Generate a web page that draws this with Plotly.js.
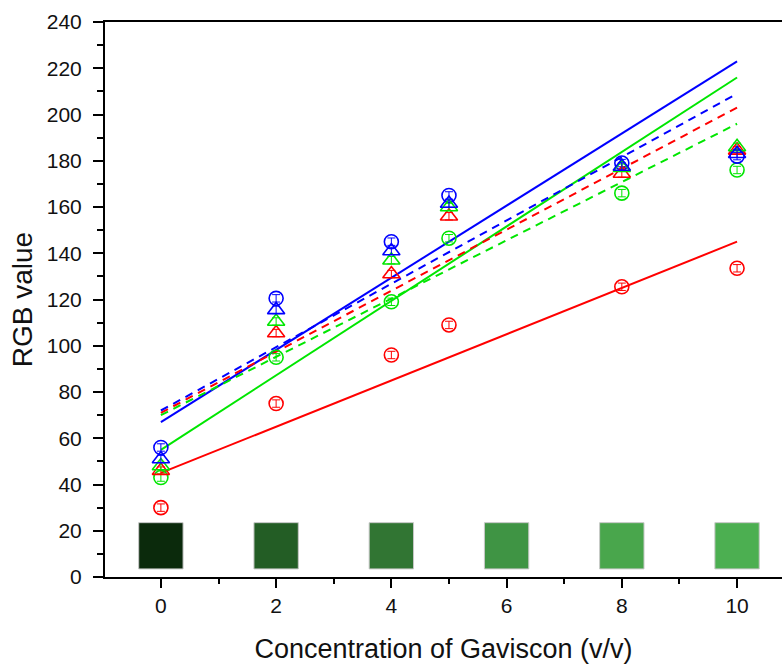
<!DOCTYPE html>
<html>
<head>
<meta charset="utf-8">
<script src="https://cdn.plot.ly/plotly-3.0.1.min.js"></script>
<style>html,body{margin:0;padding:0;background:#fff;}#chart{width:782px;height:664px;}</style>
</head>
<body>
<div id="chart"></div>
<script>
// Concentrations (x values)
const conc = [0, 2, 4, 5, 8, 10];
// Circle series (measured)
const redCircle   = [30, 75, 96, 109, 125.5, 133.5];
const greenCircle = [43, 95, 119, 146.5, 166, 176];
const blueCircle  = [56, 120.5, 145, 165, 179, 182];
// Triangle series
const redTri   = [46, 105.5, 131, 156, 174.5, 184.5];
const greenTri = [48, 110.5, 137, 160, 177, 186];
const blueTri  = [51, 115.5, 141, 161.5, 177.5, 183];
// Error values
const errSmall = [1.6, 1.6, 1.6, 1.6, 1.6, 1.6];
// Fit lines (endpoints)
const fitX = [0, 10];
const redSolid = [45, 145];
const greenSolid = [55, 216];
const blueSolid = [67, 223];
const redDash = [71, 203];
const greenDash = [70, 196];
const blueDash = [72, 209];
// Colour swatches
const swatchX = [0, 2, 4, 6, 8, 10];
const swatchHeight = [20, 20, 20, 20, 20, 20];
const swatchBase = [3.5, 3.5, 3.5, 3.5, 3.5, 3.5];
const swatchColors = ['#0b2a0c', '#235d25', '#317533', '#3f9444', '#49a64c', '#4caf51'];

const RED = '#ff0000', GREEN = '#00e600', BLUE = '#0000ff';

const traces = [];
traces.push({type:'bar', x: swatchX, y: swatchHeight, base: swatchBase, width: 0.77,
  marker:{color: swatchColors, line:{color:'#c8c8c8', width:1}}, hoverinfo:'skip', showlegend:false});

function line(y, color, dash){
  return {type:'scatter', mode:'lines', x: fitX, y: y, line:{color: color, width: 2, dash: dash}, showlegend:false};
}
traces.push(line(redSolid, RED, 'solid'));
traces.push(line(greenSolid, GREEN, 'solid'));
traces.push(line(blueSolid, BLUE, 'solid'));
traces.push(line(redDash, RED, '8px,6px'));
traces.push(line(greenDash, GREEN, '8px,6px'));
traces.push(line(blueDash, BLUE, '8px,6px'));

function pts(y, color, symbol, size){
  return {type:'scatter', mode:'markers', x: conc, y: y,
    marker:{symbol: symbol, size: size, color: color, line:{color: color, width: 1.6}},
    error_y:{type:'data', array: errSmall, visible:true, color: color, thickness: 1, width: 4},
    showlegend:false};
}
traces.push(pts(redCircle, RED, 'circle-open', 14));
traces.push(pts(greenCircle, GREEN, 'circle-open', 14));
traces.push(pts(blueCircle, BLUE, 'circle-open', 14));
traces.push(pts(redTri, RED, 'triangle-up-open', 15));
traces.push(pts(greenTri, GREEN, 'triangle-up-open', 15));
traces.push(pts(blueTri, BLUE, 'triangle-up-open', 15));

const font = {family:'Liberation Sans, Arial, sans-serif', color:'#111'};
const layout = {
  width: 782, height: 664,
  margin:{l:105, r:0, t:22, b:87},
  paper_bgcolor:'#fff', plot_bgcolor:'#fff',
  showlegend:false,
  bargap: 0,
  xaxis:{
    range:[-0.97, 10.78], tickmode:'array', tickvals:[0,2,4,6,8,10],
    ticks:'outside', ticklen:9, tickwidth:2, tickcolor:'#000',
    minor:{tickvals:[1,3,5,7,9], ticks:'outside', ticklen:5, tickwidth:2, tickcolor:'#000'},
    showline:true, linecolor:'#000', linewidth:2, mirror:true,
    showgrid:false, zeroline:false,
    tickfont:{...font, size:21},
    title:{text:'Concentration of Gaviscon (v/v)', font:{...font, size:27}, standoff:23}
  },
  yaxis:{
    range:[0, 240], dtick:20, tick0:0,
    ticks:'outside', ticklen:10, tickwidth:2, tickcolor:'#000',
    minor:{dtick:10, ticks:'outside', ticklen:6, tickwidth:2, tickcolor:'#000'},
    showline:true, linecolor:'#000', linewidth:2,
    showgrid:false, zeroline:false,
    ticklabelstandoff:7,
    tickfont:{...font, size:21},
    title:{text:'RGB value', font:{...font, size:28}, standoff:6}
  }
};
Plotly.newPlot('chart', traces, layout, {displayModeBar:false, staticPlot:true});
</script>
</body>
</html>
